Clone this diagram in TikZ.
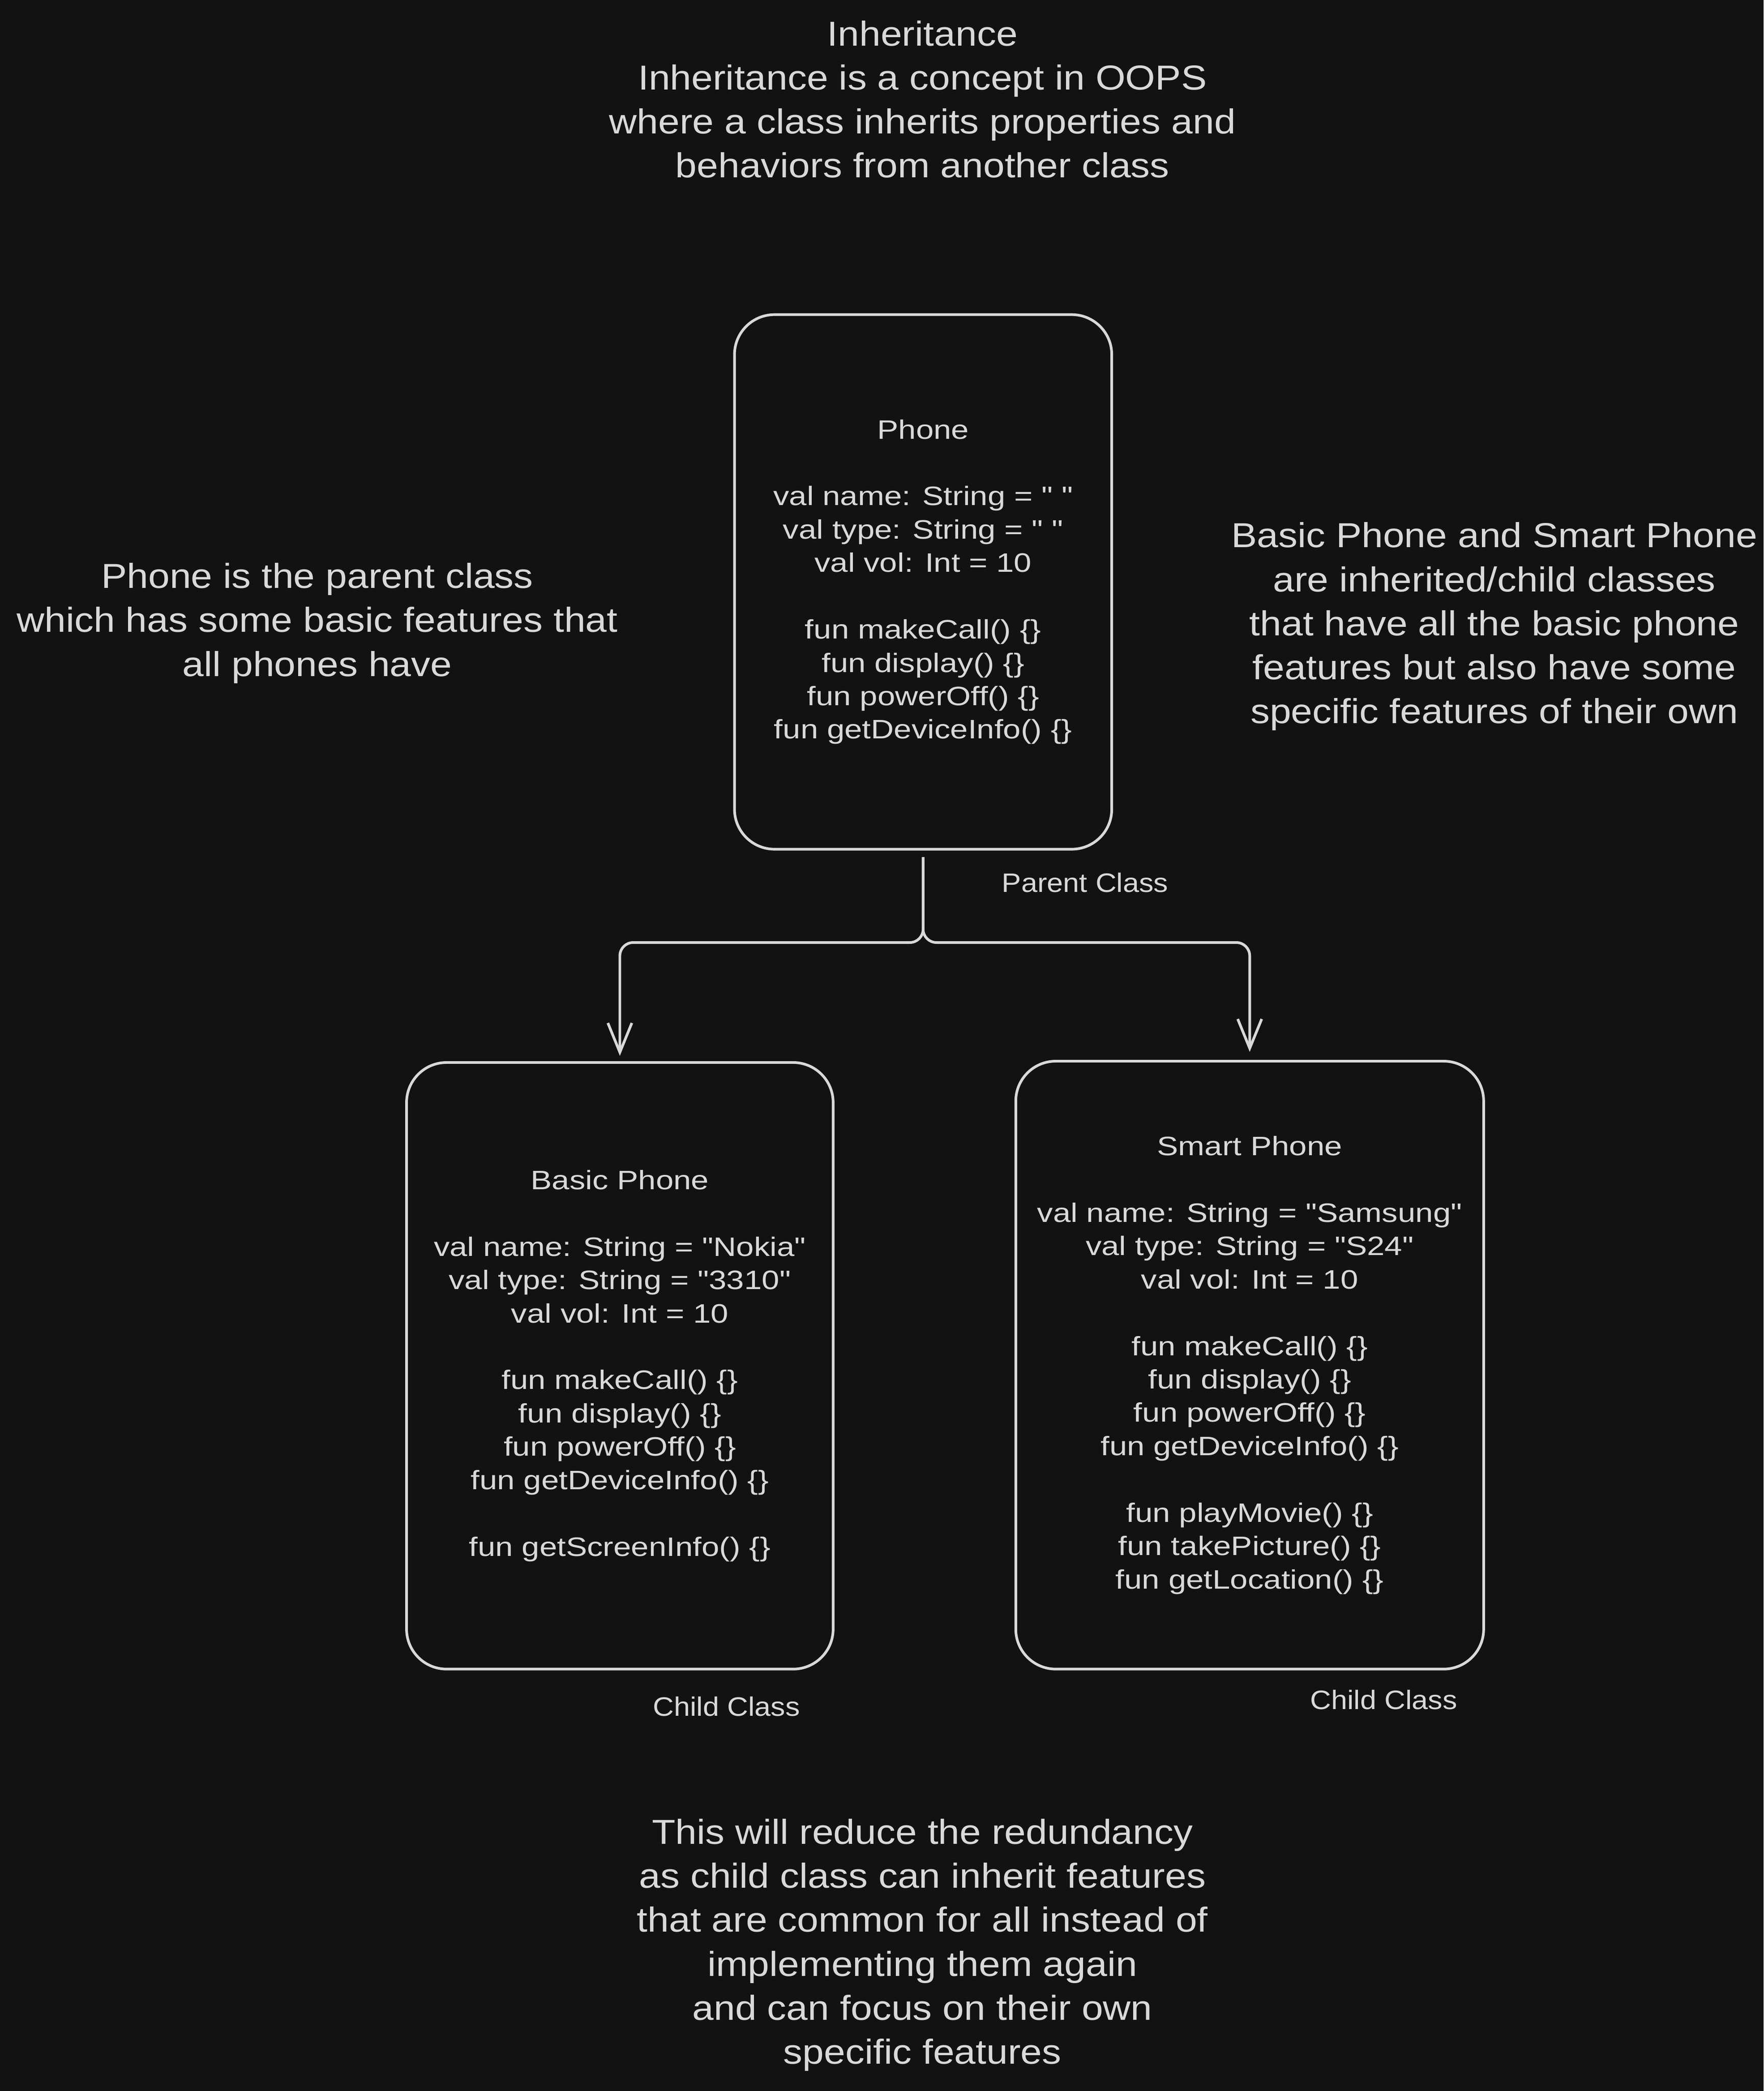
\documentclass[tikz,border=0pt]{standalone}
\usepackage{fontspec}
\setmainfont{Liberation Sans}
\newfontfamily\bigfont{Liberation Sans}[FakeStretch=1.11]
\newfontfamily\boxfont{Liberation Sans}[FakeStretch=1.19]
\newfontfamily\labfont{Liberation Sans}[FakeStretch=1.09]
\newcommand\dq{\char34\relax}
\usetikzlibrary{arrows.meta}
\definecolor{bg}{HTML}{121212}
\definecolor{ink}{HTML}{D9D9D9}
\tikzset{
  box/.style={draw=ink, line width=2pt, rounded corners=30pt, text=ink, align=center, inner sep=0pt,
    font=\boxfont\fontsize{20}{25}\selectfont},
  big/.style={text=ink, align=center, inner sep=0pt, font=\bigfont\fontsize{26}{33}\selectfont},
  lab/.style={text=ink, align=center, inner sep=0pt, font=\labfont\fontsize{20}{25}\selectfont},
  arr/.style={draw=ink, line width=2pt, rounded corners=10pt, -{Straight Barb[length=22pt,width=18pt,line width=2pt]}},
}
\begin{document}
\begin{tikzpicture}[x=1pt,y=-1pt]
\fill[bg] (0,0) rectangle (1323,1568.5);
\useasboundingbox (0,0) rectangle (1323,1568.5);

\node[big] (title) at (692,74.5) {Inheritance\\Inheritance is a concept in OOPS\\where a class inherits properties and\\behaviors from another class};

\node[box, minimum width=283pt, minimum height=401pt] (phone) at (692.5,436.5)
 {Phone\\[25pt]val name: String = \dq\ \dq\\val type: String = \dq\ \dq\\val vol: Int = 10\\[25pt]fun makeCall() \{\}\\fun display() \{\}\\fun powerOff() \{\}\\fun getDeviceInfo() \{\}};

\node[box, minimum width=320pt, minimum height=455pt] (basic) at (465,1024.5)
 {Basic Phone\\[25pt]val name: String = \dq Nokia\dq\\val type: String = \dq 3310\dq\\val vol: Int = 10\\[25pt]fun makeCall() \{\}\\fun display() \{\}\\fun powerOff() \{\}\\fun getDeviceInfo() \{\}\\[25pt]fun getScreenInfo() \{\}};

\node[box, minimum width=351pt, minimum height=456pt] (smart) at (937.5,1024)
 {Smart Phone\\[25pt]val name: String = \dq Samsung\dq\\val type: String = \dq S24\dq\\val vol: Int = 10\\[25pt]fun makeCall() \{\}\\fun display() \{\}\\fun powerOff() \{\}\\fun getDeviceInfo() \{\}\\[25pt]fun playMovie() \{\}\\fun takePicture() \{\}\\fun getLocation() \{\}};

\node[big] (left) at (238,467.5) {Phone is the parent class\\which has some basic features that\\all phones have};
\node[big] (right) at (1121,470) {Basic Phone and Smart Phone\\are inherited/child classes\\that have all the basic phone\\features but also have some\\specific features of their own};
\node[big] (bottom) at (692,1459) {This will reduce the redundancy\\as child class can inherit features\\that are common for all instead of\\implementing them again\\and can focus on their own\\specific features};

\node[lab] (plab) at (814,662) {Parent Class};
\node[lab] (clab1) at (545,1280) {Child Class};
\node[lab] (clab2) at (1038,1275) {Child Class};

\coordinate (split) at (692.5,707);
\draw[arr, shorten <=5pt, shorten >=4pt] (phone.south) -- (split) -| (basic.north);
\draw[arr, shorten <=5pt, shorten >=6pt] (phone.south) -- (split) -| (smart.north);
\end{tikzpicture}
\end{document}
